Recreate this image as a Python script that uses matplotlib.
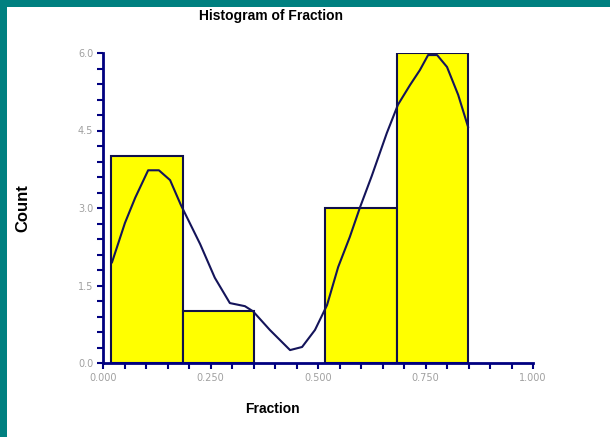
import matplotlib
matplotlib.use("Agg")
import matplotlib.pyplot as plt
from matplotlib.patches import Rectangle
from matplotlib.ticker import MultipleLocator, FormatStrFormatter

# histogram bins and counts
bin_edges = [0.019, 0.185, 0.351, 0.517, 0.683, 0.849]
counts = [4, 1, 0, 3, 6]

# density curve overlaid on the histogram (scaled to counts)
curve_x = [0.021, 0.051, 0.075, 0.105, 0.130, 0.156, 0.181, 0.226, 0.260,
           0.295, 0.330, 0.349, 0.388, 0.435, 0.463, 0.493, 0.521, 0.547,
           0.574, 0.598, 0.625, 0.660, 0.686, 0.714, 0.737, 0.756, 0.777,
           0.800, 0.826, 0.849]
curve_y = [1.95, 2.71, 3.20, 3.73, 3.73, 3.54, 3.06, 2.30, 1.65,
           1.16, 1.10, 1.00, 0.64, 0.25, 0.31, 0.64, 1.12, 1.86,
           2.44, 3.02, 3.62, 4.45, 5.00, 5.38, 5.67, 5.96, 5.96,
           5.73, 5.19, 4.57]

navy = "#000080"
fig = plt.figure(figsize=(6.10, 4.37), dpi=100)
fig.patch.set_facecolor("white")

# teal frame at top and left
fig.patches.append(Rectangle((0, 1 - 7 / 437), 1, 7 / 437, transform=fig.transFigure,
                             facecolor="#008080", edgecolor="none", zorder=10))
fig.patches.append(Rectangle((0, 0), 7 / 610, 1, transform=fig.transFigure,
                             facecolor="#008080", edgecolor="none", zorder=10))

ax = fig.add_axes([103 / 610, 74 / 437, 430 / 610, 310 / 437])

widths = [bin_edges[i + 1] - bin_edges[i] for i in range(len(counts))]
for left, w, c in zip(bin_edges[:-1], widths, counts):
    if c > 0:
        ax.bar(left, c, width=w, align="edge", color="#FFFF00",
               edgecolor="#10104a", linewidth=1.5, zorder=2)

ax.plot(curve_x, curve_y, color="#14145a", linewidth=1.5, zorder=3)

ax.set_xlim(0, 1)
ax.set_ylim(0, 6)
for s in ["top", "right"]:
    ax.spines[s].set_visible(False)
for s in ["left", "bottom"]:
    ax.spines[s].set_color(navy)
    ax.spines[s].set_linewidth(2)

ax.xaxis.set_major_locator(MultipleLocator(0.25))
ax.xaxis.set_minor_locator(MultipleLocator(0.05))
ax.yaxis.set_major_locator(MultipleLocator(1.5))
ax.yaxis.set_minor_locator(MultipleLocator(0.3))
ax.xaxis.set_major_formatter(FormatStrFormatter("%.3f"))
ax.yaxis.set_major_formatter(FormatStrFormatter("%.1f"))
ax.tick_params(which="both", direction="out", length=4, width=1.5, color=navy,
               labelsize=7, labelcolor="#a0a0a0", pad=3)

ax.set_title("Histogram of Fraction", fontsize=10, fontweight="bold",
             family="Liberation Sans", x=0.39, y=1.078)
ax.set_xlabel("Fraction", fontsize=10, fontweight="bold", family="Liberation Sans")
ax.xaxis.set_label_coords(0.395, -0.125)
ax.set_ylabel("Count", fontsize=12, fontweight="bold", family="Liberation Sans")
ax.yaxis.set_label_coords(-0.17, 0.5)

fig.savefig("out.png", dpi=100)
